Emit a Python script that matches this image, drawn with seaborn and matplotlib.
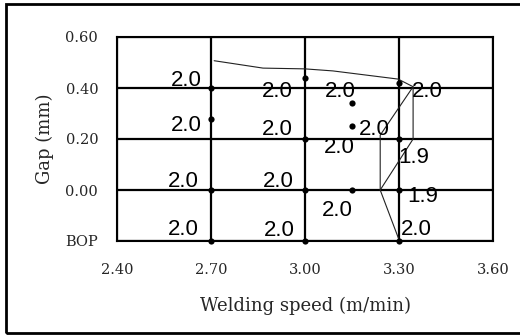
import matplotlib
matplotlib.use("Agg")
import matplotlib.pyplot as plt
import seaborn as sns
import pandas as pd
from matplotlib.patches import Rectangle

# ---- data ----
x_ticks = [2.40, 2.70, 3.00, 3.30, 3.60]
x_tick_labels = ["2.40", "2.70", "3.00", "3.30", "3.60"]
y_ticks = [-0.20, 0.00, 0.20, 0.40, 0.60]
y_tick_labels = ["BOP", "0.00", "0.20", "0.40", "0.60"]

# measured points (welding speed, gap)
pt_speed = [2.70, 2.70, 2.70, 2.70, 3.00, 3.00, 3.00, 3.00, 3.15, 3.15, 3.15, 3.30, 3.30, 3.30, 3.30]
pt_gap = [0.40, 0.28, 0.00, -0.20, 0.44, 0.20, 0.00, -0.20, 0.34, 0.25, 0.00, 0.42, 0.20, 0.00, -0.20]

# value labels (text, anchor speed, anchor gap)
lab_text = ["2.0", "2.0", "2.0", "2.0", "2.0", "2.0", "2.0", "2.0",
            "2.0", "2.0", "2.0", "2.0", "2.0", "1.9", "1.9", "2.0"]
lab_speed = [2.620, 2.620, 2.612, 2.612, 2.912, 2.912, 2.914, 2.917,
             3.112, 3.222, 3.109, 3.104, 3.391, 3.348, 3.377, 3.354]
lab_gap = [0.408, 0.232, 0.012, -0.176, 0.365, 0.216, 0.012, -0.180,
           0.365, 0.216, 0.145, -0.102, 0.365, 0.106, -0.047, -0.176]

# boundary lines
bound_a_speed = [2.710, 2.866, 3.000, 3.089, 3.297, 3.345, 3.240, 3.240, 3.300]
bound_a_gap = [0.507, 0.478, 0.475, 0.467, 0.435, 0.405, 0.215, 0.000, -0.195]
bound_b_speed = [3.345, 3.345, 3.240]
bound_b_gap = [0.405, 0.200, 0.000]

# ---- plot ----
sns.set_style("white")
fig = plt.figure(figsize=(5.2, 3.36), dpi=100)
ax = fig.add_axes([117 / 520, 1 - 241 / 336, (493 - 117) / 520, (241 - 37) / 336])

ax.grid(True, color="black", lw=1.6)
ax.set_axisbelow(True)

sns.lineplot(x=bound_a_speed, y=bound_a_gap, sort=False, estimator=None,
             color="#222222", lw=0.8, ax=ax, zorder=3)
sns.lineplot(x=bound_b_speed, y=bound_b_gap, sort=False, estimator=None,
             color="#222222", lw=0.8, ax=ax, zorder=3)
sns.scatterplot(x=pt_speed, y=pt_gap, color="black", s=20, linewidth=0,
                ax=ax, zorder=5, clip_on=False)

for t, xs, yg in zip(lab_text, lab_speed, lab_gap):
    ax.text(xs, yg, t, ha="center", va="baseline", fontsize=16,
            family="Liberation Sans", color="black", zorder=6)

ax.set_xlim(2.4, 3.6)
ax.set_ylim(-0.2, 0.6)
ax.set_xticks(x_ticks)
ax.set_xticklabels(x_tick_labels, family="DejaVu Serif", fontsize=10.5)
ax.set_yticks(y_ticks)
ax.set_yticklabels(y_tick_labels, family="DejaVu Serif", fontsize=10.5)
ax.tick_params(axis="x", length=0, pad=16)
ax.tick_params(axis="y", length=0, pad=13.5)

for s in ax.spines.values():
    s.set_color("black")
    s.set_linewidth(1.5)

ax.set_xlabel("Welding speed (m/min)", family="DejaVu Serif", fontsize=13, labelpad=14)
ax.set_ylabel("Gap (mm)", family="DejaVu Serif", fontsize=13, labelpad=8)

fig.patches.append(Rectangle((6 / 520, 3 / 336), 1.1, 1 - 7 / 336,
                             transform=fig.transFigure, fill=False,
                             edgecolor="black", lw=2))

fig.savefig("out.png", dpi=100)
